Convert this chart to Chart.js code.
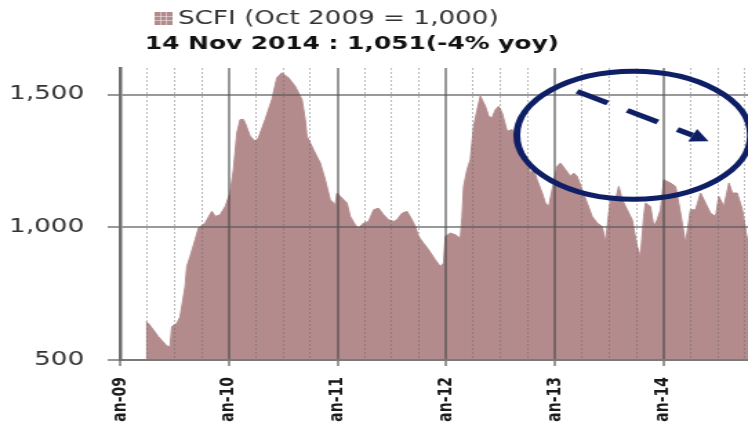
<!DOCTYPE html>
<html lang="en">
<head>
  <meta charset="UTF-8" />
  <title>SCFI</title>
  <script src="https://cdn.jsdelivr.net/npm/chart.js@4.4.0/dist/chart.umd.min.js"></script>
  <style>
    * { margin: 0; padding: 0; box-sizing: border-box; }
    html, body { width: 748px; height: 423px; overflow: hidden; background: #fff; }
    /* the source picture is stretched sideways, so we stretch the canvas the same way */
    .wrap { position: absolute; left: 0; top: 0; transform: scaleX(1.38); transform-origin: 0 0; }
  </style>
</head>
<body>
  <div class="wrap"><canvas id="scfiChart" width="553" height="440"></canvas></div>

  <script>
    // x = months since Jan 2009
    const months = [
      2.84, 3.13, 4.23, 5.16, 5.52, 5.71, 6.27, 6.63, 7.18, 7.37, 7.73, 8.29, 8.65, 9.39, 10.13, 10.5,
      11.05, 11.6, 12.15, 12.52, 12.9, 13.26, 13.62, 13.81, 14.36, 14.92, 15.28, 16.02, 16.76, 17.31,
      17.87, 18.6, 19.34, 20.08, 20.44, 20.63, 21.36, 22.1, 22.65, 23.2, 23.76, 23.94, 24.5, 25.05,
      25.41, 25.97, 26.33, 26.88, 27.44, 27.99, 28.54, 29.09, 29.65, 30.2, 30.57, 31.13, 31.68, 32.23,
      32.6, 32.96, 33.51, 34.07, 34.81, 35.36, 35.72, 35.91, 36.46, 37.02, 37.57, 37.76, 37.93, 38.31,
      38.67, 39.04, 39.41, 39.78, 40.14, 40.33, 40.69, 41.07, 41.44, 41.8, 42.18, 42.73, 43.28, 43.83,
      44.39, 44.94, 45.3, 45.67, 46.04, 46.6, 46.96, 47.33, 47.7, 48.25, 48.62, 49.17, 49.72, 50.09,
      50.46, 51.02, 51.57, 52.12, 52.67, 53.23, 53.59, 54.14, 54.7, 55.06, 55.44, 55.99, 56.54, 57.09,
      57.46, 57.82, 58.01, 58.56, 58.93, 59.3, 59.67, 60.03, 60.77, 61.33, 61.88, 62.43, 62.98, 63.54,
      64.09, 64.64, 65.19, 65.75, 66.11, 66.67, 67.22, 67.6, 68.14, 68.7, 69.25, 69.83, 70.45
    ];
    const scfi = [
      644, 638, 588, 553, 550, 626, 638, 663, 777, 852, 890, 953, 997, 1016, 1060, 1041,
      1047, 1078, 1129, 1217, 1355, 1406, 1406, 1393, 1343, 1324, 1337, 1406, 1481, 1563,
      1582, 1563, 1531, 1481, 1406, 1343, 1292, 1242, 1179, 1104, 1085, 1129, 1110, 1091,
      1041, 1009, 997, 1016, 1022, 1066, 1072, 1047, 1028, 1022, 1028, 1053, 1060, 1028,
      1003, 965, 940, 915, 877, 852, 865, 965, 978, 972, 959, 1041, 1154, 1217,
      1255, 1381, 1440, 1494, 1469, 1456, 1418, 1412, 1443, 1456, 1431, 1362, 1368, 1330,
      1292, 1255, 1204, 1217, 1179, 1129, 1091, 1078, 1141, 1229, 1242, 1217, 1192, 1204,
      1192, 1141, 1091, 1041, 1016, 1003, 945, 1104, 1104, 1154, 1104, 1066, 1028, 928,
      890, 1041, 1091, 1078, 1003, 1028, 1066, 1179, 1167, 1154, 1053, 940, 1066, 1066,
      1129, 1091, 1053, 1041, 1116, 1078, 1167, 1129, 1129, 1066, 953, 1000, 1051
    ];
    const tickLabels = ["Jan-09", "Jan-10", "Jan-11", "Jan-12", "Jan-13", "Jan-14"];
    const yTicks = [500, 1000, 1500];
    const legendText = "SCFI (Oct 2009 = 1,000)";
    const headline = "14 Nov 2014 : 1,051(-4% yoy)";

    // the hand-drawn circle and dashed arrow, in data units
    const ringCenter = [56.7, 1347];
    const ringRadius = [12.9, 241];
    const arrowFrom = [50.46, 1512];
    const arrowTo = [64.97, 1324];

    const fillColor = "#b48b8d";
    const navy = "#0f1f66";
    const xMax = 71;

    // quarter lines between the year lines
    const quarterTicks = [];
    for (let m = 3; m < xMax; m += 3) if (m % 12) quarterTicks.push({ value: m });

    Chart.defaults.font.family = "'DejaVu Sans', Verdana, sans-serif";

    const header = {
      id: "header",
      afterDraw(chart) {
        const ctx = chart.ctx;
        ctx.save();
        // legend swatch
        ctx.fillStyle = fillColor;
        ctx.fillRect(112, 12, 13, 13);
        ctx.strokeStyle = "rgba(255,255,255,0.45)";
        ctx.lineWidth = 1;
        ctx.beginPath();
        [116.5, 120.5].forEach(p => { ctx.moveTo(p, 12); ctx.lineTo(p, 25); });
        [16.5, 20.5].forEach(p => { ctx.moveTo(112, p); ctx.lineTo(125, p); });
        ctx.stroke();

        ctx.textBaseline = "middle";
        ctx.fillStyle = "#333";
        ctx.font = "19px 'DejaVu Sans'";
        ctx.fillText(legendText, 129, 19);
        ctx.fillStyle = "#111";
        ctx.font = "bold 18px 'DejaVu Sans'";
        ctx.fillText(headline, 105, 44);
        ctx.restore();
      }
    };

    const annotate = {
      id: "annotate",
      afterDraw(chart) {
        const { ctx, scales: { x, y } } = chart;
        ctx.save();
        ctx.strokeStyle = navy;
        ctx.fillStyle = navy;

        const cx = x.getPixelForValue(ringCenter[0]);
        const cy = y.getPixelForValue(ringCenter[1]);
        const rx = x.getPixelForValue(ringCenter[0] + ringRadius[0]) - cx;
        const ry = cy - y.getPixelForValue(ringCenter[1] + ringRadius[1]);
        ctx.lineWidth = 5;
        ctx.beginPath();
        ctx.ellipse(cx, cy, rx, ry, 0, 0, Math.PI * 2);
        ctx.stroke();

        const x0 = x.getPixelForValue(arrowFrom[0]), y0 = y.getPixelForValue(arrowFrom[1]);
        const x1 = x.getPixelForValue(arrowTo[0]), y1 = y.getPixelForValue(arrowTo[1]);
        const ang = Math.atan2(y1 - y0, x1 - x0);
        const head = 13;
        const bx = x1 - head * Math.cos(ang), by = y1 - head * Math.sin(ang);
        ctx.lineWidth = 5;
        ctx.setLineDash([25, 16]);
        ctx.beginPath();
        ctx.moveTo(x0, y0);
        ctx.lineTo(bx, by);
        ctx.stroke();
        ctx.setLineDash([]);
        ctx.beginPath();
        ctx.moveTo(x1, y1);
        ctx.lineTo(bx + 7 * Math.sin(ang), by - 7 * Math.cos(ang));
        ctx.lineTo(bx - 7 * Math.sin(ang), by + 7 * Math.cos(ang));
        ctx.closePath();
        ctx.fill();
        ctx.restore();
      }
    };

    new Chart(document.getElementById("scfiChart"), {
      type: "line",
      data: {
        datasets: [{
          label: legendText,
          data: months.map((m, i) => ({ x: m, y: scfi[i] })),
          fill: "start",
          backgroundColor: fillColor,
          borderColor: fillColor,
          borderWidth: 1,
          pointRadius: 0,
          tension: 0
        }]
      },
      options: {
        responsive: false,
        animation: false,
        devicePixelRatio: 1,
        layout: { padding: { top: 68, left: 0, right: 0, bottom: 0 } },
        plugins: {
          legend: { display: false },
          title: { display: false },
          tooltip: { enabled: false }
        },
        scales: {
          x: {
            type: "linear",
            min: 0,
            max: xMax,
            afterBuildTicks: s => { s.ticks = tickLabels.map((_, i) => ({ value: i * 12 })); },
            afterFit: s => { s.height = 80; },
            border: { color: "#7a7a7a", width: 2, z: 2 },
            grid: { color: "rgba(70,70,70,0.55)", lineWidth: 2, tickLength: 6, z: 1 },
            ticks: {
              autoSkip: false,
              minRotation: 90,
              maxRotation: 90,
              padding: 11,
              color: "#1a1a1a",
              font: { size: 14, weight: "bold" },
              callback: v => tickLabels[Math.round(v / 12)] || ""
            }
          },
          xq: {
            type: "linear",
            position: "bottom",
            min: 0,
            max: xMax,
            afterBuildTicks: s => { s.ticks = quarterTicks.slice(); },
            afterFit: s => { s.height = 0; },
            border: { display: false, dash: [2, 2] },
            grid: { drawTicks: false, lineWidth: 1, color: "rgba(100,100,100,0.45)", z: 1 },
            ticks: { display: false, autoSkip: false }
          },
          y: {
            min: 500,
            max: 1600,
            afterBuildTicks: s => { s.ticks = yTicks.map(v => ({ value: v })); },
            afterFit: s => { s.width = 87; },
            border: { color: "#6e6e6e", width: 2.5, z: 2 },
            grid: { color: "rgba(85,85,85,0.6)", lineWidth: 2, tickLength: 9, z: 1 },
            ticks: {
              padding: 17,
              color: "#333",
              font: { size: 19 },
              callback: v => v.toLocaleString("en-US")
            }
          }
        }
      },
      plugins: [header, annotate]
    });
  </script>
</body>
</html>
